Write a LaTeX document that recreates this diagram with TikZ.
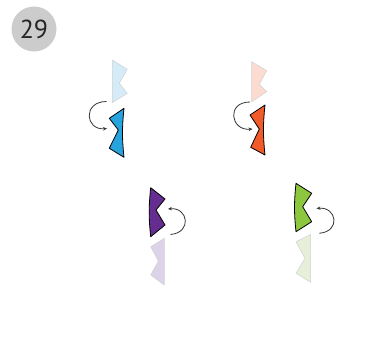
\documentclass[tikz,border=0pt]{standalone}
\usepackage{fontspec}
\newfontfamily\badgefont{PT Sans}
\usepackage{tikz}
\usetikzlibrary{arrows.meta,positioning}
\definecolor{pblue}{HTML}{27A3DD}
\definecolor{pblueF}{HTML}{D5EBF7}
\definecolor{porange}{HTML}{F15A29}
\definecolor{porangeF}{HTML}{FCDBD1}
\definecolor{ppurple}{HTML}{662D91}
\definecolor{ppurpleF}{HTML}{DCD3E8}
\definecolor{pgreen}{HTML}{8DC63F}
\definecolor{pgreenF}{HTML}{E6F0D9}
\tikzset{
  badge/.style  = {circle, fill=black!20, minimum size=45pt, inner sep=0pt,
                   font=\badgefont\fontsize{26}{26}\selectfont, text=black!85},
  solidpc/.style = {draw=black, line width=0.8pt, line join=round, fill=#1},
  fadedpc/.style = {draw=black!18, line width=0.5pt, line join=round, fill=#1},
  turn/.style    = {-{Stealth[length=4pt,width=3.5pt]}, line width=0.8pt, draw=black!80},
}

\begin{document}
\begin{tikzpicture}[x=1pt,y=-1pt]
\useasboundingbox (0,0) rectangle (381,351);
\node[badge] (num) at (34,29) {29};
% blue pair
\draw[fadedpc=pblueF] (112.3,60) -- (127.3,69.3) -- (119.3,83.3) -- (127.3,93.3) -- (112.3,102.7) -- cycle;
\draw[solidpc=pblue] (124,108.3) -- (109.3,118.3) -- (118.3,130) -- (109.3,148.3) -- (124,157.3) to[bend left=6] cycle;
\coordinate (b1) at (106.5,101.5);
\coordinate (b2) at (107,128.5);
\draw[turn] (b1) .. controls +(-24,0) and +(-22,2) .. (b2);
% orange pair
\draw[fadedpc=porangeF] (251.7,61.7) -- (266.7,70.7) -- (259.3,84.3) -- (266.7,91.7) -- (251.7,101.7) -- cycle;
\draw[solidpc=porange] (265,105) -- (250,115) -- (259.3,129) -- (250.7,147.3) -- (265,155) to[bend left=6] cycle;
\coordinate (o1) at (250,102);
\coordinate (o2) at (252.5,129);
\draw[turn] (o1) .. controls +(-24,0) and +(-22,2) .. (o2);
% purple pair
\draw[solidpc=ppurple] (150.7,187.7) -- (165,199) -- (156,210) -- (165,225) -- (150.7,236.7) to[bend left=6] cycle;
\draw[fadedpc=ppurpleF] (164.3,238.3) -- (150.7,246.7) -- (158.3,261) -- (150.7,275) -- (164.3,285) -- cycle;
\coordinate (p1) at (170.5,234.5);
\coordinate (p2) at (168,209);
\draw[turn] (p1) .. controls +(22,-2) and +(20,-2) .. (p2);
% green pair
\draw[solidpc=pgreen] (296,183.3) -- (311.7,193.3) -- (302.7,206.7) -- (311.7,221.7) -- (296,231.7) to[bend left=6] cycle;
\draw[fadedpc=pgreenF] (310.7,234.3) -- (296,241.7) -- (305,258.3) -- (296,273.3) -- (310.7,282.3) -- cycle;
\coordinate (g1) at (319.3,233.3);
\coordinate (g2) at (316.5,208.5);
\draw[turn] (g1) .. controls +(22,-2) and +(20,-2) .. (g2);
\end{tikzpicture}
\end{document}
